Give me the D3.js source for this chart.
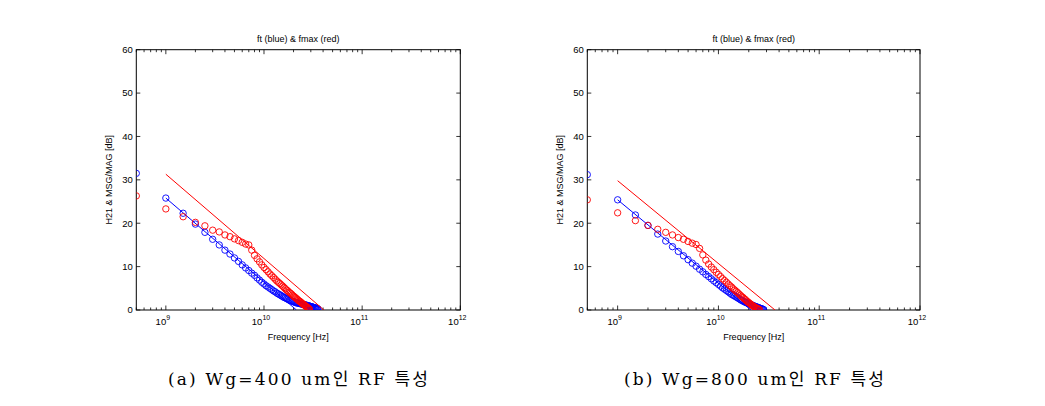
<!DOCTYPE html>
<html>
<head>
<meta charset="utf-8">
<script src="https://cdn.jsdelivr.net/npm/d3@7"></script>
<style>
  body { margin: 0; background: #fff; }
  svg text { font-family: "Liberation Sans", Arial, sans-serif; fill: #000; }
  .caption { font-family: "DejaVu Serif", "Noto Sans CJK KR", serif; }
</style>
</head>
<body>
<div id="chart"></div>
<script>
// measured frequency grid (GHz), 0.5 GHz steps
const freqGHz = [0.5,1,1.5,2,2.5,3,3.5,4,4.5,5,5.5,6,6.5,7,7.5,8,8.5,9,9.5,10,
  10.5,11,11.5,12,12.5,13,13.5,14,14.5,15,15.5,16,16.5,17,17.5,18,18.5,19,19.5,20,
  20.5,21,21.5,22,22.5,23,23.5,24,24.5,25,25.5,26,26.5,27,27.5,28,28.5,29,29.5,30,
  30.5,31,31.5,32,32.5,33,33.5,34,34.5,35,35.5];

// (a) Wg=400um : H21 (blue) and MSG/MAG (red), dB
const h21A = [31.5,25.8,22.3,19.8,17.9,16.3,15.0,13.8,12.9,12.0,11.2,10.4,9.7,9.1,8.5,8.0,7.4,6.9,6.4,6.0,
  5.6,5.3,5.0,4.7,4.4,4.2,3.9,3.7,3.5,3.3,3.1,2.9,2.8,2.6,2.5,2.3,2.2,2.1,2.0,1.9,
  1.8,1.7,1.65,1.6,1.55,1.5,1.45,1.4,1.35,1.3,1.25,1.2,1.15,1.1,1.05,1.0,0.95,0.9,0.85,0.8,
  0.75,0.7,0.65,0.6,0.55,0.5,0.45,0.4,0.35,0.3,0.25];
const msgA = [26.3,23.3,21.5,20.2,19.4,18.4,18.0,17.3,16.9,16.4,16.0,15.6,15.2,15.0,13.8,12.6,11.8,11.1,10.4,9.8,
  9.3,8.8,8.3,7.9,7.5,7.1,6.7,6.4,6.1,5.8,5.5,5.2,4.9,4.6,4.4,4.1,3.9,3.7,3.4,3.2,
  3.0,2.8,2.6,2.4,2.2,2.0,1.9,1.7,1.5,1.4,1.2,1.1,0.9,0.8,0.6,0.5,0.3,0.2];

// (b) Wg=800um
const h21B = [31.2,25.4,21.9,19.5,17.5,15.9,14.6,13.5,12.5,11.6,10.8,10.1,9.4,8.8,8.2,7.7,7.2,6.7,6.3,5.9,
  5.5,5.1,4.8,4.5,4.2,3.9,3.6,3.4,3.2,3.0,2.8,2.6,2.4,2.2,2.1,1.9,1.8,1.7,1.55,1.45,
  1.35,1.25,1.15,1.05,0.95,0.85,0.8,0.7,0.6,0.55,0.45,0.4,0.3,0.25,0.2,0.1];
const msgB = [25.4,22.4,20.6,19.5,18.6,17.9,17.3,16.7,16.3,15.8,15.4,15.1,14.2,12.7,11.5,10.6,9.9,9.3,8.7,8.2,
  7.7,7.2,6.8,6.4,6.0,5.6,5.3,4.9,4.6,4.3,4.0,3.7,3.4,3.1,2.9,2.6,2.4,2.1,1.9,1.7,
  1.5,1.3,1.1,0.95,0.8,0.65,0.5,0.4,0.3,0.2,0.1];

// -20 dB/dec fit lines: [start, end] in GHz and dB
const fitH21FreqA = [1, 21.4], fitH21DbA = [25.8, 0];
const fitMsgFreqA = [1, 40.8], fitMsgDbA = [31.3, 0];
const fitH21FreqB = [1, 21.0], fitH21DbB = [25.4, 0];
const fitMsgFreqB = [1, 36.4], fitMsgDbB = [29.8, 0];

const yTicks = [0, 10, 20, 30, 40, 50, 60];
const xDecades = [1e9, 1e10, 1e11, 1e12];
const xExponents = ["9", "10", "11", "12"];
const titleText = "ft (blue) & fmax (red)";
const xLabel = "Frequency [Hz]";
const yLabel = "H21 & MSG/MAG [dB]";
const captions = ["(a) Wg=400 um인 RF 특성", "(b) Wg=800 um인 RF 특성"];

const W = 1045, H = 406;
const svg = d3.select("#chart").append("svg").attr("width", W).attr("height", H);

function panel(o) {
  const w = o.width, h = 260.3;
  const g = svg.append("g").attr("transform", `translate(${o.left},49.7)`);
  const x = d3.scaleLog().domain([5e8, 1e12]).range([0, w]);
  const y = d3.scaleLinear().domain([0, 60]).range([h, 0]);

  const clipId = "clip" + o.id;
  g.append("clipPath").attr("id", clipId).append("rect").attr("width", w).attr("height", h);

  // minor ticks on log axis
  const minor = [];
  for (let e = 8; e < 12; e++) for (let k = 2; k <= 9; k++) {
    const v = k * Math.pow(10, e);
    if (v >= 5e8 && v < 1e12) minor.push(v);
  }

  const tk = g.append("g").attr("stroke", "#000").attr("stroke-width", 0.8);
  minor.forEach(v => {
    const px = x(v);
    tk.append("line").attr("x1", px).attr("x2", px).attr("y1", h).attr("y2", h - 2.5);
    tk.append("line").attr("x1", px).attr("x2", px).attr("y1", 0).attr("y2", 2.5);
  });
  xDecades.forEach(v => {
    const px = x(v);
    tk.append("line").attr("x1", px).attr("x2", px).attr("y1", h).attr("y2", h - 4.5);
    tk.append("line").attr("x1", px).attr("x2", px).attr("y1", 0).attr("y2", 4.5);
  });
  yTicks.forEach(v => {
    const py = y(v);
    tk.append("line").attr("x1", 0).attr("x2", 4).attr("y1", py).attr("y2", py);
    tk.append("line").attr("x1", w).attr("x2", w - 4).attr("y1", py).attr("y2", py);
  });

  // y tick labels
  g.append("g").selectAll("text").data(yTicks).join("text")
    .attr("x", -3.5).attr("y", d => y(d) + 3.4)
    .attr("text-anchor", "end").attr("font-size", 9.5).text(d => d);

  // x tick labels 10^n
  xDecades.forEach((v, i) => {
    const t = g.append("text").attr("x", x(v) - 3).attr("y", h + 15.3)
      .attr("text-anchor", "middle").attr("font-size", 9.5);
    t.append("tspan").text("10");
    t.append("tspan").attr("dy", -5.5).attr("font-size", 7).text(xExponents[i]);
  });

  // box
  g.append("rect").attr("width", w).attr("height", h)
    .attr("fill", "none").attr("stroke", "#000").attr("stroke-width", 1);

  g.append("text").attr("x", w / 2).attr("y", -7.5).attr("text-anchor", "middle")
    .attr("font-size", 9).text(titleText);
  g.append("text").attr("x", w / 2).attr("y", h + 30).attr("text-anchor", "middle")
    .attr("font-size", 9).text(xLabel);
  g.append("text").attr("transform", `translate(-24.5,${h / 2}) rotate(-90)`)
    .attr("text-anchor", "middle").attr("font-size", 9).text(yLabel);

  const plot = g.append("g").attr("clip-path", `url(#${clipId})`);
  const line = d3.line().x(d => x(d[0] * 1e9)).y(d => y(d[1]));

  function series(vals, color) {
    plot.append("g").selectAll("circle")
      .data(vals.map((v, i) => [freqGHz[i], v]))
      .join("circle")
      .attr("cx", d => x(d[0] * 1e9)).attr("cy", d => y(d[1]))
      .attr("r", 3.2).attr("fill", "none").attr("stroke", color).attr("stroke-width", 0.9);
  }
  function fit(fs, dbs, color) {
    plot.append("path").datum(fs.map((f, i) => [f, dbs[i]]))
      .attr("d", line).attr("fill", "none").attr("stroke", color).attr("stroke-width", 1);
  }

  series(o.h21, "#0000ff");
  fit(o.fitH21F, o.fitH21Db, "#0000ff");
  series(o.msg, "#ff0000");
  fit(o.fitMsgF, o.fitMsgDb, "#ff0000");

  // caption under the panel, stretched to the width seen in the reference
  svg.append("text").attr("class", "caption")
    .attr("x", o.capX).attr("y", 385).attr("text-anchor", "middle")
    .attr("font-size", 17).attr("textLength", 260).attr("lengthAdjust", "spacing")
    .text(o.caption);
}

panel({ id: "a", left: 136.3, width: 324, h21: h21A, msg: msgA,
  fitH21F: fitH21FreqA, fitH21Db: fitH21DbA, fitMsgF: fitMsgFreqA, fitMsgDb: fitMsgDbA,
  caption: captions[0], capX: 298 });
panel({ id: "b", left: 587.3, width: 332.7, h21: h21B, msg: msgB,
  fitH21F: fitH21FreqB, fitH21Db: fitH21DbB, fitMsgF: fitMsgFreqB, fitMsgDb: fitMsgDbB,
  caption: captions[1], capX: 754 });
</script>
</body>
</html>
